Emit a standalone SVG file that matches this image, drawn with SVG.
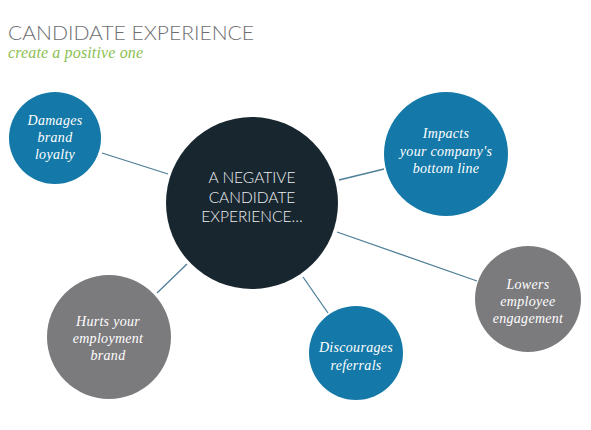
<svg xmlns="http://www.w3.org/2000/svg" width="591" height="430" viewBox="0 0 591 430">
<style>
.title{font-family:"Lato","Liberation Sans",sans-serif;font-weight:300;font-size:20px;fill:#6d6e71}
.sub{font-family:"Liberation Serif",serif;font-style:italic;font-size:16px;fill:#8cc152}
.lbl{font-family:"Liberation Serif",serif;font-style:italic;font-size:14px;letter-spacing:0.3px;fill:#ffffff;text-anchor:middle}
.ctr{font-family:"Lato","Liberation Sans",sans-serif;font-weight:300;font-size:15.5px;fill:#eef0f2;text-anchor:middle}
.blue{fill:#1479a8}
.gray{fill:#7b7a7d}
.dark{fill:#18262f}
.conn line{stroke:#4f7f98;stroke-width:1.3}
</style>
<rect width="591" height="430" fill="#ffffff"/>
<text class="title" x="8" y="40" textLength="246" lengthAdjust="spacingAndGlyphs">CANDIDATE EXPERIENCE</text>
<text class="sub" x="8" y="58" textLength="135">create a positive one</text>
<g id="connectors" class="conn">
<line x1="102" y1="153" x2="168" y2="174"/>
<line x1="339" y1="180" x2="384" y2="169"/>
<line x1="337" y1="232" x2="477" y2="281"/>
<line x1="303" y1="277" x2="328" y2="313"/>
<line x1="157" y1="293" x2="187" y2="264"/>
</g>
<g id="center">
<circle class="dark" cx="252" cy="203" r="86"/>
<text class="ctr" x="252" y="183">A NEGATIVE</text>
<text class="ctr" x="252" y="203">CANDIDATE</text>
<text class="ctr" x="252" y="222">EXPERIENCE…</text>
</g>
<g id="damages">
<circle class="blue" cx="55" cy="138" r="46"/>
<text class="lbl" x="55" y="125">Damages</text>
<text class="lbl" x="55" y="142">brand</text>
<text class="lbl" x="55" y="159">loyalty</text>
</g>
<g id="impacts">
<circle class="blue" cx="446" cy="154" r="62"/>
<text class="lbl" x="446" y="138">Impacts</text>
<text class="lbl" x="446" y="156">your company's</text>
<text class="lbl" x="446" y="173">bottom line</text>
</g>
<g id="lowers">
<circle class="gray" cx="528" cy="299" r="53"/>
<text class="lbl" x="528" y="289">Lowers</text>
<text class="lbl" x="528" y="306">employee</text>
<text class="lbl" x="528" y="323">engagement</text>
</g>
<g id="discourages">
<circle class="blue" cx="356" cy="353" r="47"/>
<text class="lbl" x="356" y="352">Discourages</text>
<text class="lbl" x="356" y="370">referrals</text>
</g>
<g id="hurts">
<circle class="gray" cx="109" cy="337" r="62"/>
<text class="lbl" x="108" y="326">Hurts your</text>
<text class="lbl" x="108" y="343">employment</text>
<text class="lbl" x="108" y="360">brand</text>
</g>
</svg>
